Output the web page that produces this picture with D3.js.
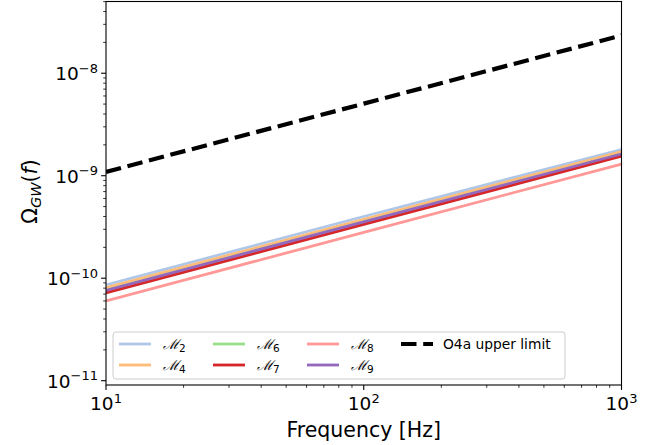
<!DOCTYPE html>
<html>
<head>
<meta charset="utf-8">
<script src="https://cdn.jsdelivr.net/npm/d3@7"></script>
<style>
  html, body { margin: 0; padding: 0; background: #fff; }
  svg { display: block; font-family: "DejaVu Sans", sans-serif; }
</style>
</head>
<body>
<div id="chart"></div>
<script>
const frequencies = [10, 100, 1000];

// Omega_GW(f) for each model, at the frequencies above
const seriesNames = ['2', '4', '6', '7', '8', '9'];
const seriesColors = ['#aec7e8', '#ffbb78', '#98df8a', '#d62728', '#ff9896', '#9467bd'];
const omegaM2 = [8.6e-11, 4.0e-10, 1.80e-9];
const omegaM4 = [8.1e-11, 3.76e-10, 1.72e-9];
const omegaM6 = [7.6e-11, 3.55e-10, 1.63e-9];
const omegaM7 = [7.2e-11, 3.35e-10, 1.55e-9];
const omegaM8 = [6.0e-11, 2.80e-10, 1.30e-9];
const omegaM9 = [7.6e-11, 3.55e-10, 1.63e-9];
const seriesValues = [omegaM2, omegaM4, omegaM6, omegaM7, omegaM8, omegaM9];

const upperLimit = [1.09e-9, 5.05e-9, 2.34e-8];

const xTickExponents = [1, 2, 3];
const yTickExponents = [-11, -10, -9, -8];

const width = 663;
const height = 445;
const margin = { top: 1.5, right: 41.5, bottom: 60, left: 106 };
const innerWidth = width - margin.left - margin.right;
const innerHeight = height - margin.top - margin.bottom;

const svg = d3.select('#chart')
  .append('svg')
  .attr('width', width)
  .attr('height', height);

const plot = svg.append('g')
  .attr('transform', `translate(${margin.left},${margin.top})`);

const x = d3.scaleLog()
  .domain([10, 1000])
  .range([0, innerWidth]);

const y = d3.scaleLog()
  .domain([Math.pow(10, -11.042), Math.pow(10, -7.3)])
  .range([innerHeight, 0]);

const line = d3.line()
  .x((item) => x(item.f))
  .y((item) => y(item.v));

const toPoints = (values) => values.map((v, i) => ({ f: frequencies[i], v }));

// clip lines to the axes box
svg.append('defs').append('clipPath').attr('id', 'clip')
  .append('rect').attr('width', innerWidth).attr('height', innerHeight);

const lines = plot.append('g').attr('clip-path', 'url(#clip)');

seriesValues.forEach((values, i) => {
  lines.append('path')
    .datum(toPoints(values))
    .attr('fill', 'none')
    .attr('stroke', seriesColors[i])
    .attr('stroke-width', 2.8)
    .attr('d', line);
});

lines.append('path')
  .datum(toPoints(upperLimit))
  .attr('fill', 'none')
  .attr('stroke', '#000')
  .attr('stroke-width', 4.2)
  .attr('stroke-dasharray', '15.5 6.7')
  .attr('d', line);

// minor ticks
const minorX = [];
for (let e = 1; e < 3; e += 1) {
  for (let m = 2; m < 10; m += 1) minorX.push(m * Math.pow(10, e));
}
const minorY = [];
for (let e = -12; e < -7; e += 1) {
  for (let m = 2; m < 10; m += 1) {
    const v = m * Math.pow(10, e);
    if (v >= y.domain()[0] && v <= y.domain()[1]) minorY.push(v);
  }
}

const axisX = plot.append('g').attr('transform', `translate(0,${innerHeight})`);
axisX.selectAll('.minor').data(minorX).join('line')
  .attr('x1', (d) => x(d)).attr('x2', (d) => x(d))
  .attr('y1', 0).attr('y2', 2.8)
  .attr('stroke', '#000').attr('stroke-width', 0.8);
const xMajor = axisX.selectAll('.major').data(xTickExponents).join('g')
  .attr('transform', (d) => `translate(${x(Math.pow(10, d))},0)`);
xMajor.append('line').attr('y2', 4.9).attr('stroke', '#000').attr('stroke-width', 1.1);
const xText = xMajor.append('text')
  .attr('y', 25).attr('text-anchor', 'middle')
  .attr('font-size', 18.5).attr('fill', '#000');
xText.append('tspan').text('10');
xText.append('tspan').attr('dy', -7.5).attr('font-size', 13).text((d) => d);

const axisY = plot.append('g');
axisY.selectAll('.minor').data(minorY).join('line')
  .attr('y1', (d) => y(d)).attr('y2', (d) => y(d))
  .attr('x1', 0).attr('x2', -2.8)
  .attr('stroke', '#000').attr('stroke-width', 0.8);
const yMajor = axisY.selectAll('.major').data(yTickExponents).join('g')
  .attr('transform', (d) => `translate(0,${y(Math.pow(10, d))})`);
yMajor.append('line').attr('x2', -4.9).attr('stroke', '#000').attr('stroke-width', 1.1);
const yText = yMajor.append('text')
  .attr('x', -8).attr('y', 7).attr('text-anchor', 'end')
  .attr('font-size', 18.5).attr('fill', '#000');
yText.append('tspan').text('10');
yText.append('tspan').attr('dy', -7.5).attr('font-size', 13).text((d) => `\u2212${Math.abs(d)}`);

// frame
plot.append('rect')
  .attr('width', innerWidth).attr('height', innerHeight)
  .attr('fill', 'none').attr('stroke', '#000').attr('stroke-width', 1.1);

// axis labels
svg.append('text')
  .attr('x', margin.left + innerWidth / 2).attr('y', 437)
  .attr('text-anchor', 'middle').attr('font-size', 20.5).attr('fill', '#000')
  .text('Frequency [Hz]');

const yLabel = svg.append('text')
  .attr('transform', `translate(37,${margin.top + 190}) rotate(-90)`)
  .attr('text-anchor', 'middle').attr('font-size', 20.5).attr('fill', '#000');
yLabel.append('tspan').text('\u03a9');
yLabel.append('tspan').attr('dy', 4).attr('font-size', 14.5).attr('font-style', 'italic').text('GW');
yLabel.append('tspan').attr('dy', -4).text('(');
yLabel.append('tspan').attr('font-style', 'italic').text('f');
yLabel.append('tspan').text(')');

// legend
const legend = svg.append('g').attr('transform', 'translate(113,332)');
legend.append('rect')
  .attr('width', 452).attr('height', 47).attr('rx', 3)
  .attr('fill', '#fff').attr('fill-opacity', 0.8)
  .attr('stroke', '#ccc').attr('stroke-width', 1);

const legendItems = seriesNames.map((name, i) => ({ name, color: seriesColors[i] }));
const colX = [6, 100, 194];
legendItems.forEach((item, i) => {
  const gx = colX[Math.floor(i / 2)];
  const gy = 12 + (i % 2) * 21;
  const g = legend.append('g').attr('transform', `translate(${gx},${gy})`);
  g.append('line').attr('x1', 0).attr('x2', 32)
    .attr('stroke', item.color).attr('stroke-width', 2.8);
  const t = g.append('text').attr('x', 44).attr('y', 5)
    .attr('font-size', 14).attr('fill', '#000');
  t.append('tspan').attr('font-family', '"DejaVu Serif", serif').attr('font-style', 'italic').text('\u2133');
  t.append('tspan').attr('dy', 3).attr('font-size', 10.5).text(item.name);
});

const limitItem = legend.append('g').attr('transform', 'translate(288,12)');
limitItem.append('line').attr('x1', 0).attr('x2', 32)
  .attr('stroke', '#000').attr('stroke-width', 4.2)
  .attr('stroke-dasharray', '15.5 6.7');
limitItem.append('text').attr('x', 42).attr('y', 5)
  .attr('font-size', 13.8).attr('fill', '#000')
  .text('O4a upper limit');
</script>
</body>
</html>
